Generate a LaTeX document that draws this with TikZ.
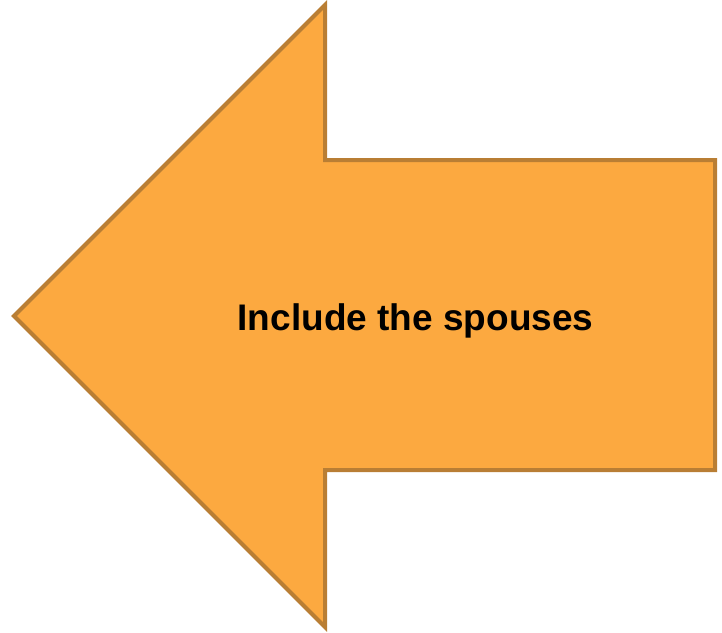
\documentclass[tikz,border=0pt]{standalone}
\usepackage{fontspec}
\setmainfont{Liberation Sans}
\definecolor{arrowfill}{RGB}{252,169,64}
\definecolor{arrowline}{RGB}{185,126,52}
\tikzset{
  arrowshape/.style={draw=arrowline, fill=arrowfill, line width=4pt, line join=miter},
  labeltext/.style={font=\fontsize{37}{40}\selectfont\bfseries, text=black, inner sep=0pt}
}
\begin{document}
\begin{tikzpicture}[x=1pt,y=-1pt]
\useasboundingbox (0,0) rectangle (722,632);
\coordinate (tip) at (14,316);
\coordinate (headtop) at (325,5);
\coordinate (headbot) at (325,627);
\coordinate (shafttl) at (325,160);
\coordinate (shafttr) at (715,160);
\coordinate (shaftbr) at (715,470);
\coordinate (shaftbl) at (325,470);
\draw[arrowshape] (tip) -- (headtop) -- (shafttl) -- (shafttr) -- (shaftbr) -- (shaftbl) -- (headbot) -- cycle;
\node[labeltext] (label) at (415.5,321) {Include the spouses};
\end{tikzpicture}
\end{document}
